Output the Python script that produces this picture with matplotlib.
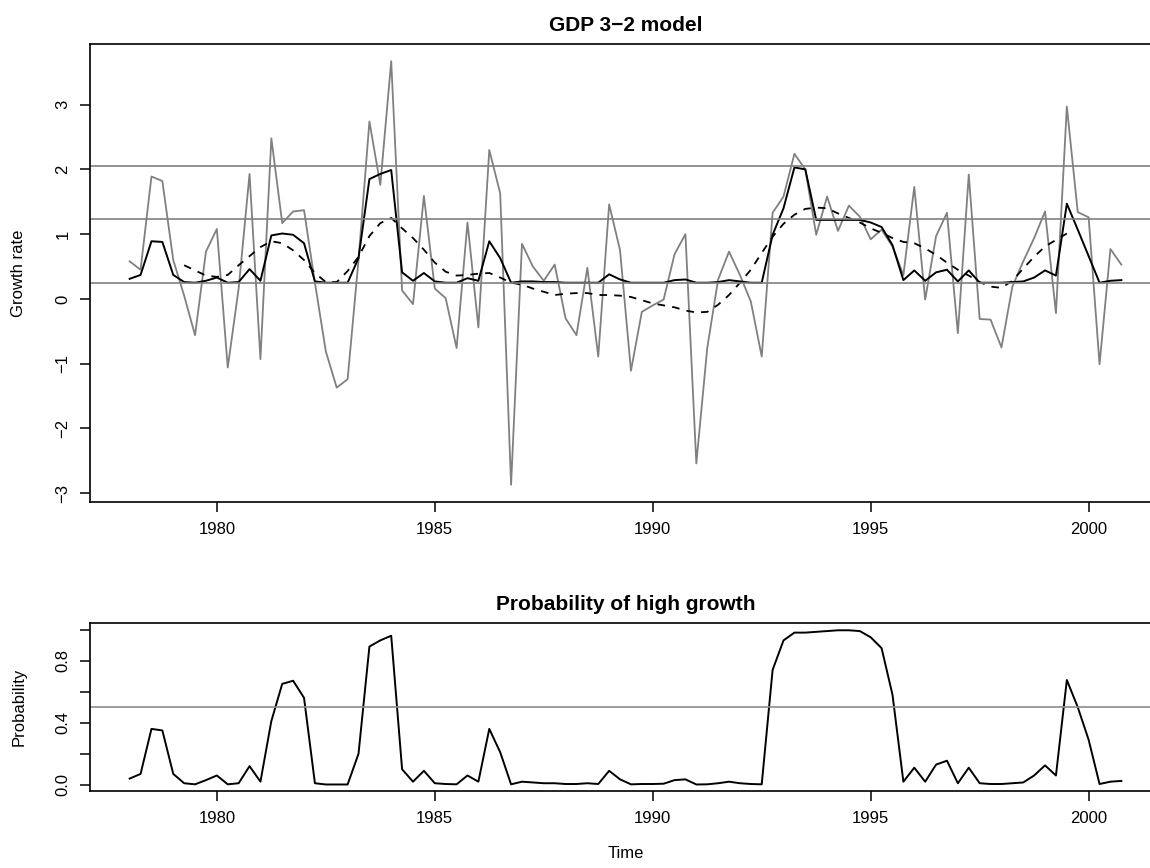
import numpy as np
import matplotlib
matplotlib.use("Agg")
import matplotlib.pyplot as plt

plt.rcParams['font.family'] = ['Liberation Sans', 'DejaVu Sans']

# quarterly time axis, 1978Q1 .. 2000Q4
time = 1978 + np.arange(92) / 4.0

growth = [0.58, 0.45, 1.89, 1.82, 0.60, 0.05, -0.56, 0.73, 1.08, -1.06,
          0.16, 1.93, -0.93, 2.48, 1.17, 1.35, 1.37, 0.25, -0.81, -1.37,
          -1.24, 0.60, 2.74, 1.76, 3.67, 0.13, -0.08, 1.59, 0.16, 0.01,
          -0.76, 1.18, -0.44, 2.30, 1.63, -2.87, 0.85, 0.50, 0.28, 0.53,
          -0.30, -0.56, 0.48, -0.89, 1.46, 0.75, -1.11, -0.20, -0.10, -0.01,
          0.69, 1.00, -2.54, -0.76, 0.30, 0.73, 0.37, -0.04, -0.89, 1.33,
          1.58, 2.24, 2.00, 0.99, 1.58, 1.05, 1.44, 1.27, 0.92, 1.07,
          0.81, 0.37, 1.73, -0.01, 0.97, 1.33, -0.53, 1.92, -0.31, -0.32,
          -0.75, 0.19, 0.58, 0.94, 1.35, -0.22, 2.97, 1.34, 1.26, -1.01,
          0.77, 0.53]

fitted = [0.31, 0.37, 0.89, 0.88, 0.37, 0.26, 0.25, 0.28, 0.33, 0.25,
          0.26, 0.46, 0.28, 0.98, 1.01, 0.99, 0.86, 0.27, 0.25, 0.25,
          0.25, 0.63, 1.85, 1.93, 1.99, 0.41, 0.28, 0.40, 0.27, 0.25,
          0.25, 0.32, 0.28, 0.89, 0.63, 0.25, 0.27, 0.27, 0.26, 0.26,
          0.25, 0.25, 0.25, 0.25, 0.38, 0.30, 0.25, 0.25, 0.25, 0.25,
          0.29, 0.30, 0.25, 0.25, 0.26, 0.29, 0.27, 0.25, 0.25, 0.99,
          1.40, 2.03, 2.00, 1.22, 1.22, 1.22, 1.22, 1.22, 1.18, 1.11,
          0.83, 0.29, 0.44, 0.28, 0.41, 0.45, 0.27, 0.44, 0.25, 0.25,
          0.25, 0.26, 0.27, 0.33, 0.44, 0.36, 1.47, 1.07, 0.66, 0.25,
          0.28, 0.29]

nan = np.nan
trend = [nan, nan, nan, nan, nan, 0.52, 0.44, 0.36, 0.34, 0.37,
         0.52, 0.66, 0.80, 0.89, 0.86, 0.75, 0.60, 0.40, 0.26, 0.26,
         0.43, 0.65, 0.97, 1.17, 1.25, 1.09, 0.94, 0.76, 0.56, 0.42,
         0.36, 0.37, 0.39, 0.40, 0.33, 0.25, 0.22, 0.16, 0.11, 0.06,
         0.08, 0.09, 0.09, 0.06, 0.06, 0.05, 0.03, -0.02, -0.07, -0.10,
         -0.13, -0.18, -0.21, -0.20, -0.09, 0.06, 0.25, 0.45, 0.71, 0.96,
         1.16, 1.30, 1.39, 1.41, 1.40, 1.32, 1.25, 1.18, 1.09, 1.02,
         0.94, 0.88, 0.86, 0.78, 0.68, 0.56, 0.45, 0.36, 0.26, 0.19,
         0.17, 0.28, 0.47, 0.65, 0.81, 0.91, 1.01, nan, nan, nan,
         nan, nan]

regime_means = [2.06, 1.23, 0.25]

prob_high = [0.04, 0.07, 0.36, 0.35, 0.07, 0.01, 0.003, 0.03, 0.06, 0.003,
             0.01, 0.12, 0.02, 0.41, 0.65, 0.67, 0.56, 0.01, 0.002, 0.002,
             0.002, 0.20, 0.89, 0.93, 0.96, 0.10, 0.02, 0.09, 0.01, 0.005,
             0.003, 0.06, 0.02, 0.36, 0.21, 0.003, 0.02, 0.015, 0.01, 0.01,
             0.005, 0.005, 0.01, 0.005, 0.09, 0.035, 0.003, 0.005, 0.005, 0.007,
             0.03, 0.035, 0.002, 0.003, 0.01, 0.02, 0.01, 0.005, 0.003, 0.74,
             0.93, 0.98, 0.98, 0.985, 0.99, 0.995, 0.995, 0.99, 0.95, 0.88,
             0.58, 0.02, 0.11, 0.02, 0.13, 0.155, 0.01, 0.11, 0.01, 0.005,
             0.005, 0.01, 0.015, 0.06, 0.125, 0.06, 0.675, 0.50, 0.29, 0.005,
             0.02, 0.025]
prob_cut = 0.5


def r_lim(vals):
  lo, hi = np.nanmin(vals), np.nanmax(vals)
  r = hi - lo
  return lo - 0.04 * r, hi + 0.04 * r


def style_axes(ax):
  for s in ax.spines.values():
    s.set_linewidth(1.2)
  # the plot box runs past the right edge of the picture
  ax.spines['right'].set_visible(False)
  ax.tick_params(axis='both', length=7.2, width=1.1, labelsize=12)
  ax.tick_params(axis='x', pad=7.4)
  ax.tick_params(axis='y', pad=6.9)
  for lab in ax.get_yticklabels():
    lab.set_rotation(90)
    lab.set_va('center')


W, H = 1150, 868
fig = plt.figure(figsize=(W / 100, H / 100), dpi=100)

left = 90 / W
width = 1071 / W
ax1 = fig.add_axes([left, 1 - 501.7 / H, width, (501.7 - 44.3) / H])
ax2 = fig.add_axes([left, 1 - 791 / H, width, (791 - 623.3) / H])

grey = '#808080'
ax1.plot(time, growth, color=grey, lw=1.3)
ax1.plot(time, fitted, color='black', lw=1.4)
ax1.plot(time, trend, color='black', lw=1.3, dashes=(4.2, 4.0))
for m in regime_means:
  ax1.axhline(m, color=grey, lw=1.2)
ax1.set_xlim(r_lim(time))
ax1.set_ylim(r_lim(growth))
ax1.set_xticks([1980, 1985, 1990, 1995, 2000])
ax1.set_yticks([-3, -2, -1, 0, 1, 2, 3])
ax1.set_title('GDP 3\u22122 model', fontsize=15, fontweight='bold', pad=9.8)
style_axes(ax1)

ax2.plot(time, prob_high, color='black', lw=1.4)
ax2.axhline(prob_cut, color='#8c8c8c', lw=1.2)
ax2.set_xlim(r_lim(time))
ax2.set_ylim(r_lim(prob_high + [0.0, 1.0]))
ax2.set_xticks([1980, 1985, 1990, 1995, 2000])
ax2.set_yticks([0.0, 0.2, 0.4, 0.6, 0.8, 1.0])
ax2.set_yticklabels(['0.0', '', '0.4', '', '0.8', ''])
ax2.set_title('Probability of high growth', fontsize=15, fontweight='bold', pad=9.8)
style_axes(ax2)

fig.text(19 / W, 1 - 273 / H, 'Growth rate', rotation=90, ha='center', va='center', fontsize=12)
fig.text(19 / W, 1 - 707 / H, 'Probability', rotation=90, ha='center', va='center', fontsize=12)
fig.text(626 / W, 1 - 858 / H, 'Time', ha='center', va='baseline', fontsize=12)

fig.savefig('out.png', dpi=100)
